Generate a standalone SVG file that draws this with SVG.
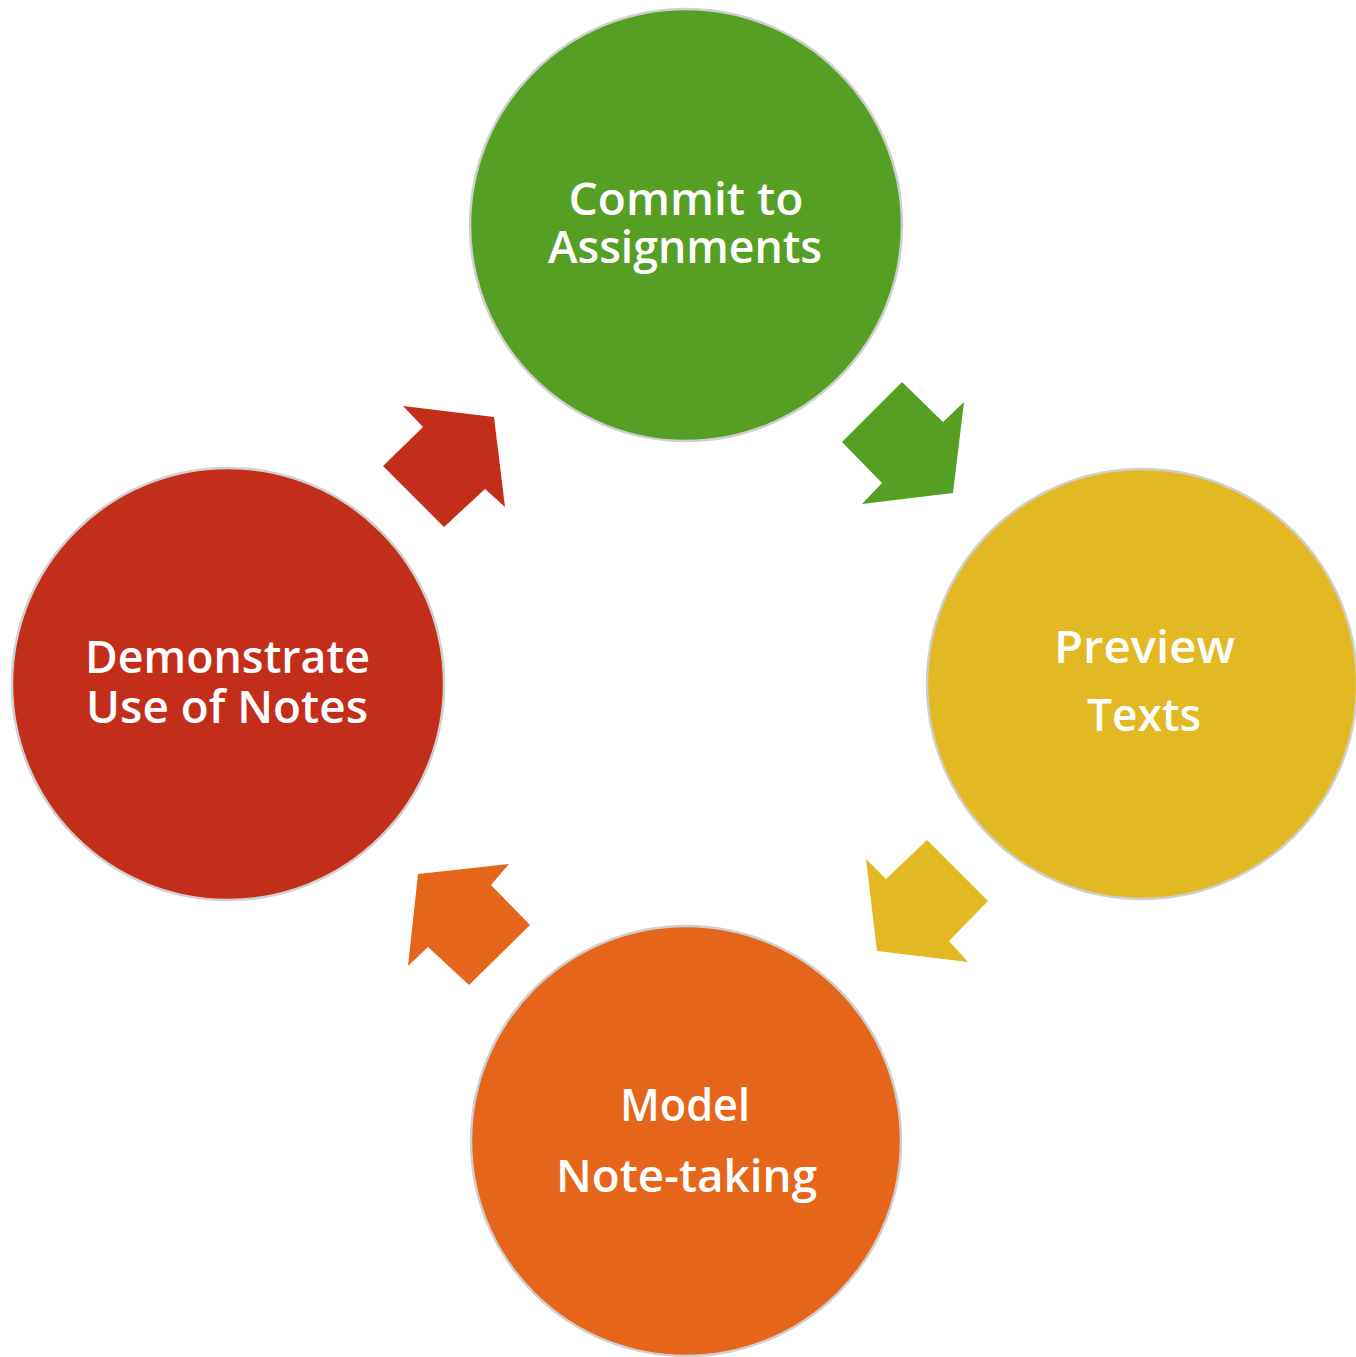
<svg xmlns="http://www.w3.org/2000/svg" width="1356" height="1357" viewBox="0 0 1356 1357">
<style>
.c{stroke:#cfcfcf;stroke-width:2.5}
.t{font-family:"Open Sans","DejaVu Sans",sans-serif;font-weight:600;font-size:45px;fill:#ffffff;text-anchor:middle}
</style>
<rect width="1356" height="1357" fill="#ffffff"/>
<g id="connectors">
<polygon points="902,382 943,422 964,402 953,493 862,504 882,483 842,442" fill="#55A024"/>
<polygon points="927,840 988,901 949,941 968,962 877,951 866,859 886,879" fill="#E2B922"/>
<polygon points="418,874 509,864 491,885 530,925 469,985 428,947 408,966" fill="#E5661A"/>
<polygon points="403,406 494,417 505,507 485,489 444,527 383,466 423,427" fill="#C22E1A"/>
</g>
<g id="commit">
<circle class="c" cx="686" cy="225" r="216" fill="#55A024"/>
<text class="t" x="686" y="215" textLength="235" lengthAdjust="spacingAndGlyphs">Commit to</text>
<text class="t" x="685" y="263" textLength="274" lengthAdjust="spacingAndGlyphs">Assignments</text>
</g>
<g id="preview">
<circle class="c" cx="1142" cy="684" r="215" fill="#E2B922"/>
<text class="t" x="1144.5" y="663" textLength="181" lengthAdjust="spacingAndGlyphs">Preview</text>
<text class="t" x="1144" y="731" textLength="114" lengthAdjust="spacingAndGlyphs">Texts</text>
</g>
<g id="model">
<circle class="c" cx="686" cy="1141" r="215" fill="#E5661A"/>
<text class="t" x="685" y="1121" textLength="130" lengthAdjust="spacingAndGlyphs">Model</text>
<text class="t" x="686.5" y="1192" textLength="261" lengthAdjust="spacingAndGlyphs">Note-taking</text>
</g>
<g id="demonstrate">
<circle class="c" cx="228" cy="684" r="216" fill="#C22E1A"/>
<text class="t" x="227.5" y="673" textLength="285" lengthAdjust="spacingAndGlyphs">Demonstrate</text>
<text class="t" x="227" y="723" textLength="282" lengthAdjust="spacingAndGlyphs">Use of Notes</text>
</g>
</svg>
